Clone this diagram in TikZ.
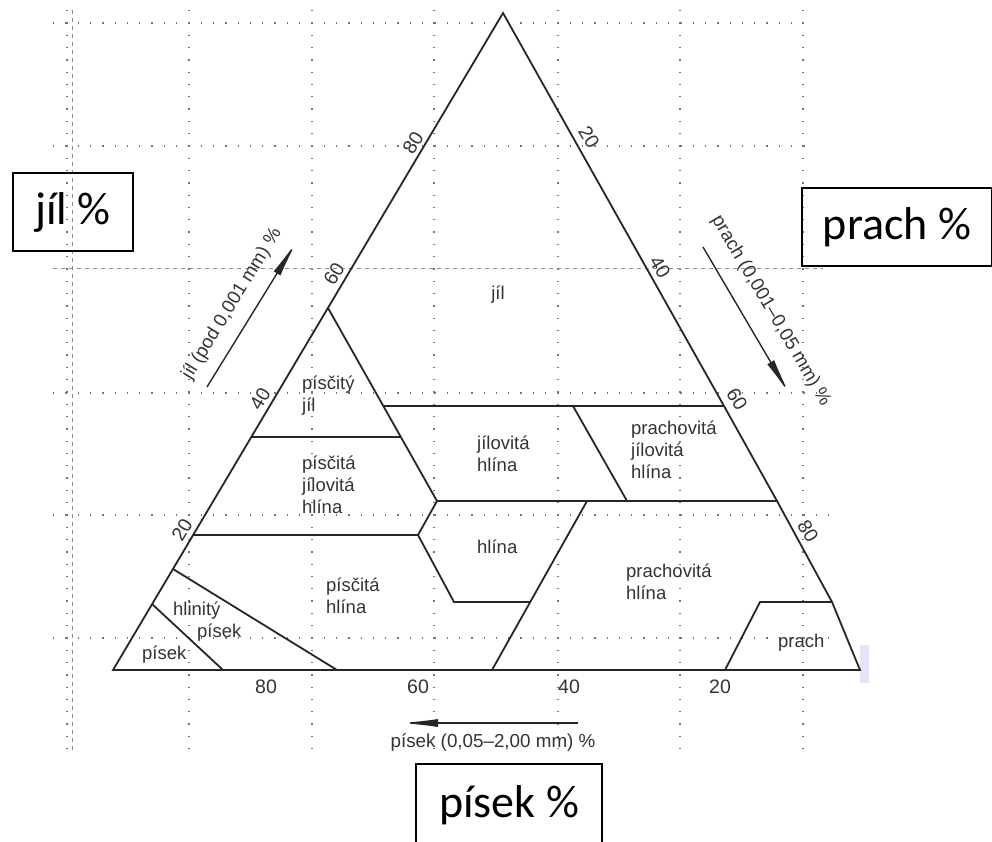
\documentclass[tikz,border=0pt]{standalone}
\usepackage{fontspec}
\setmainfont{Liberation Sans}
\newfontfamily\calibfont{Carlito}
\usetikzlibrary{arrows.meta}

\definecolor{scantint}{RGB}{228,228,250}

\begin{document}
\begin{tikzpicture}[x=1pt,y=-1pt,
  gridline/.style={black!55, line width=1.3pt, dash pattern=on 1.3pt off 11pt},
  griddash/.style={black!45, line width=0.9pt, dash pattern=on 4pt off 4pt},
  edge/.style={draw=black!85, line width=1.8pt, line join=miter},
  region/.style={text=black!80, font=\fontsize{18.5}{22}\selectfont, align=left, anchor=base west, inner sep=0pt},
  tick/.style={text=black!80, font=\fontsize{19.5}{22}\selectfont, inner sep=0pt},
  axtitle/.style={text=black!80, font=\fontsize{18.8}{22}\selectfont, inner sep=0pt},
  axarrow/.style={draw=black!85, line width=1.4pt, -{Latex[length=38pt,width=8pt]}},
  bigbox/.style={draw=black, line width=1.3pt, inner sep=0pt, minimum height=78pt,
    font=\calibfont\fontsize{46}{50}\selectfont}
]
\useasboundingbox (0,0) rectangle (992,841);

% background grid of the chart paper
\foreach \gy/\gx in {23/803, 146/815, 393/823, 515/840, 638/840}
  \draw[gridline] (53,\gy) -- (\gx,\gy);
\foreach \gx in {67,189,312,434,558,680,803}
  \draw[gridline] (\gx,10) -- (\gx,750);
\draw[griddash] (53,268) -- (823,268);
\draw[griddash] (72,10) -- (72,753);

% scanning tint at the lower right corner
\fill[scantint] (860,645) rectangle (869,683);

% corners and points on the edges
\coordinate (A) at (503,13);
\coordinate (L) at (113,670);
\coordinate (R) at (860,670);
\coordinate (l60) at (328,308);
\coordinate (l40) at (251,437);
\coordinate (l20) at (193,535);
\coordinate (lHP) at (173,569);
\coordinate (lP) at (152,604);
\coordinate (r40) at (724,406);
\coordinate (r25) at (777,501);
\coordinate (r10) at (832,602);
% inner vertices
\coordinate (pj) at (383,406);
\coordinate (p1) at (401,437);
\coordinate (p2) at (437,501);
\coordinate (p3) at (418,535);
\coordinate (p4) at (454,602);
\coordinate (p5) at (530,602);
\coordinate (p6) at (587,501);
\coordinate (p7) at (492,670);
\coordinate (q1) at (573,406);
\coordinate (q2) at (627,501);
\coordinate (s1) at (725,670);
\coordinate (s2) at (760,602);
\coordinate (b1) at (337,670);
\coordinate (b2) at (223,670);

% triangle outline
\draw[edge] (L) -- (A) -- (r40) -- (r25) -- (r10) -- (R) -- cycle;

% class boundaries
\draw[edge] (l60) -- (p2);
\draw[edge] (pj) -- (r40);
\draw[edge] (l40) -- (p1);
\draw[edge] (p2) -- (r25);
\draw[edge] (p2) -- (p3) -- (p4) -- (p5);
\draw[edge] (l20) -- (p3);
\draw[edge] (p6) -- (p7);
\draw[edge] (q1) -- (q2);
\draw[edge] (s1) -- (s2) -- (r10);
\draw[edge] (lHP) -- (b1);
\draw[edge] (lP) -- (b2);

% class names (anchored at the baseline of the last line)
\node[region, anchor=base] (tJil) at (498,299) {jíl};
\node[region] (tPJ) at (302,411) {písčitý\\jíl};
\node[region] (tPJH) at (302,513) {písčitá\\jílovitá\\hlína};
\node[region] (tJH) at (477,471) {jílovitá\\hlína};
\node[region] (tH) at (477,553) {hlína};
\node[region] (tPH) at (326,613) {písčitá\\hlína};
\node[region] (tHP) at (173,637) {hlinitý\\\hspace*{24pt}písek};
\node[region] (tP) at (142,659) {písek};
\node[region] (tPrJH) at (631,478) {prachovitá\\jílovitá\\hlína};
\node[region] (tPrH) at (626,599) {prachovitá\\hlína};
\node[region] (tPr) at (778,647) {prach};

% scale numbers
\node[tick, rotate=59] (kl80) at (413,143) {80};
\node[tick, rotate=59] (kl60) at (334,274) {60};
\node[tick, rotate=59] (kl40) at (260,399) {40};
\node[tick, rotate=59] (kl20) at (182,530) {20};
\node[tick, rotate=-59] (kr20) at (589,137) {20};
\node[tick, rotate=-59] (kr40) at (660,267) {40};
\node[tick, rotate=-59] (kr60) at (737,399) {60};
\node[tick, rotate=-59] (kr80) at (808,531) {80};
\node[tick] (kb80) at (266,687) {80};
\node[tick] (kb60) at (418,687) {60};
\node[tick] (kb40) at (569,687) {40};
\node[tick] (kb20) at (720,687) {20};

% axis arrows with their titles
\coordinate (ca0) at (207,387);
\coordinate (ca1) at (297,241);
\draw[axarrow] (ca0) -- (ca1);
\node[axtitle, rotate=58.5] (tClay) at (232,304) {jíl (pod 0,001 mm) \%};

\coordinate (sa0) at (703,247);
\coordinate (sa1) at (790,395);
\draw[axarrow] (sa0) -- (sa1);
\node[axtitle, rotate=-59.5] (tSilt) at (771,311) {prach (0,001–0,05 mm) \%};

\coordinate (na0) at (578,723);
\coordinate (na1) at (400,723);
\draw[axarrow] (na0) -- (na1);
\node[axtitle] (tSand) at (493,743) {písek (0,05–2,00 mm) \%};

% framed component labels
\node[bigbox, minimum width=120pt] (bClay) at (73,212) {jíl \%};
\node[bigbox, minimum width=190pt] (bSilt) at (897,227) {prach \%};
\node[bigbox, minimum width=186pt, minimum height=82pt] (bSand) at (509,805) {písek \%};
\end{tikzpicture}
\end{document}
